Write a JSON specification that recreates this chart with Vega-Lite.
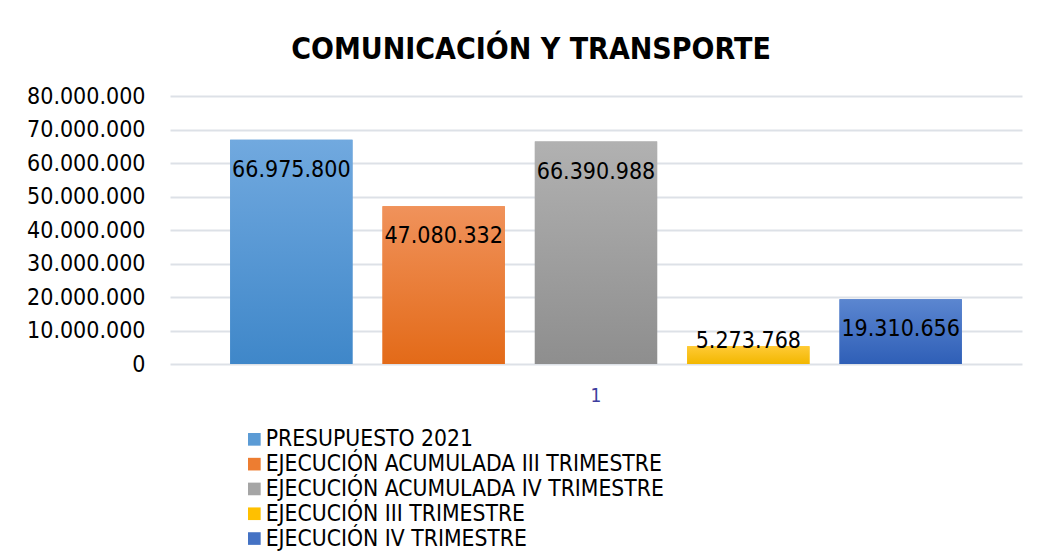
{
  "$schema": "https://vega.github.io/schema/vega-lite/v6.json",
  "autosize": {"type": "none"},
  "width": 852,
  "height": 268,
  "padding": {"left": 170, "top": 96, "right": 19, "bottom": 196},
  "background": "white",
  "config": {
    "view": {"stroke": null},
    "locale": {"number": {"decimal": ",", "thousands": ".", "grouping": [3], "currency": ["$", ""]}},
    "font": "DejaVu Sans Condensed"
  },
  "title": {
    "text": "COMUNICACIÓN Y TRANSPORTE",
    "font": "DejaVu Sans Condensed",
    "fontSize": 30,
    "fontWeight": "bold",
    "color": "#000000",
    "anchor": "middle",
    "dx": -65,
    "dy": 41,
    "baseline": "alphabetic",
    "offset": 37
  },
  "data": {
    "values": [
      {"cat": "1", "serie": "PRESUPUESTO 2021", "valor": 66975800},
      {"cat": "1", "serie": "EJECUCIÓN ACUMULADA III TRIMESTRE", "valor": 47080332},
      {"cat": "1", "serie": "EJECUCIÓN ACUMULADA IV TRIMESTRE", "valor": 66390988},
      {"cat": "1", "serie": "EJECUCIÓN III TRIMESTRE", "valor": 5273768},
      {"cat": "1", "serie": "EJECUCIÓN IV TRIMESTRE", "valor": 19310656}
    ]
  },
  "encoding": {
    "x": {
      "field": "cat",
      "type": "nominal",
      "title": null,
      "scale": {"paddingInner": 0, "paddingOuter": 0},
      "axis": {
        "labelAngle": 0,
        "domain": false,
        "ticks": false,
        "grid": false,
        "labelFontSize": 19,
        "labelColor": "#3d3d9e",
        "labelFont": "DejaVu Sans Condensed",
        "labelPadding": 22
      }
    },
    "xOffset": {
      "field": "serie",
      "type": "nominal",
      "sort": ["PRESUPUESTO 2021", "EJECUCIÓN ACUMULADA III TRIMESTRE", "EJECUCIÓN ACUMULADA IV TRIMESTRE", "EJECUCIÓN III TRIMESTRE", "EJECUCIÓN IV TRIMESTRE"],
      "scale": {"paddingInner": 0.197, "paddingOuter": 0.395}
    },
    "y": {
      "field": "valor",
      "type": "quantitative",
      "title": null,
      "scale": {"domain": [0, 80000000], "nice": false},
      "axis": {
        "values": [0, 10000000, 20000000, 30000000, 40000000, 50000000, 60000000, 70000000, 80000000],
        "format": ",d",
        "domain": false,
        "ticks": false,
        "tickSize": 0,
        "labelPadding": 25,
        "labelFontSize": 23,
        "labelColor": "#000000",
        "labelFont": "DejaVu Sans Condensed",
        "gridColor": "#dde1e7",
        "gridWidth": 2
      }
    }
  },
  "layer": [
    {
      "mark": {"type": "bar"},
      "encoding": {
        "color": {
          "field": "serie",
          "type": "nominal",
          "sort": ["PRESUPUESTO 2021", "EJECUCIÓN ACUMULADA III TRIMESTRE", "EJECUCIÓN ACUMULADA IV TRIMESTRE", "EJECUCIÓN III TRIMESTRE", "EJECUCIÓN IV TRIMESTRE"],
          "scale": {
            "domain": ["PRESUPUESTO 2021", "EJECUCIÓN ACUMULADA III TRIMESTRE", "EJECUCIÓN ACUMULADA IV TRIMESTRE", "EJECUCIÓN III TRIMESTRE", "EJECUCIÓN IV TRIMESTRE"],
            "range": ["#5b9bd5", "#ed7d31", "#a5a5a5", "#ffc000", "#4472c4"]
          },
          "legend": {
            "title": null,
            "orient": "none",
            "legendX": 73,
            "legendY": 332,
            "padding": 0,
            "symbolType": "square",
            "symbolSize": 160,
            "symbolStrokeWidth": 0,
            "labelFontSize": 22.7,
            "labelFont": "DejaVu Sans Condensed",
            "labelColor": "#000000",
            "labelOffset": 0,
            "rowPadding": 0.8,
            "labelLimit": 600
          }
        }
      }
    },
    {
      "transform": [{"filter": "datum.serie === 'PRESUPUESTO 2021'"}],
      "mark": {"type": "bar", "color": {"gradient": "linear", "x1": 0, "y1": 0, "x2": 0, "y2": 1, "stops": [{"offset": 0, "color": "#71a9df"}, {"offset": 1, "color": "#3f87c9"}]}}
    },
    {
      "transform": [{"filter": "datum.serie === 'EJECUCIÓN ACUMULADA III TRIMESTRE'"}],
      "mark": {"type": "bar", "color": {"gradient": "linear", "x1": 0, "y1": 0, "x2": 0, "y2": 1, "stops": [{"offset": 0, "color": "#f0925b"}, {"offset": 1, "color": "#e36a18"}]}}
    },
    {
      "transform": [{"filter": "datum.serie === 'EJECUCIÓN ACUMULADA IV TRIMESTRE'"}],
      "mark": {"type": "bar", "color": {"gradient": "linear", "x1": 0, "y1": 0, "x2": 0, "y2": 1, "stops": [{"offset": 0, "color": "#b1b1b1"}, {"offset": 1, "color": "#8e8e8e"}]}}
    },
    {
      "transform": [{"filter": "datum.serie === 'EJECUCIÓN III TRIMESTRE'"}],
      "mark": {"type": "bar", "color": {"gradient": "linear", "x1": 0, "y1": 0, "x2": 0, "y2": 1, "stops": [{"offset": 0, "color": "#ffca35"}, {"offset": 1, "color": "#f2b700"}]}}
    },
    {
      "transform": [{"filter": "datum.serie === 'EJECUCIÓN IV TRIMESTRE'"}],
      "mark": {"type": "bar", "color": {"gradient": "linear", "x1": 0, "y1": 0, "x2": 0, "y2": 1, "stops": [{"offset": 0, "color": "#5b86d0"}, {"offset": 1, "color": "#2f5fb7"}]}}
    },
    {
      "transform": [{"filter": "datum.valor > 10000000"}],
      "mark": {"type": "text", "baseline": "alphabetic", "align": "center", "dy": 37, "fontSize": 23, "font": "DejaVu Sans Condensed", "color": "#000000"},
      "encoding": {"text": {"field": "valor", "type": "quantitative", "format": ",d"}}
    },
    {
      "transform": [{"filter": "datum.valor <= 10000000"}],
      "mark": {"type": "text", "baseline": "alphabetic", "align": "center", "dy": 2, "fontSize": 23, "font": "DejaVu Sans Condensed", "color": "#000000"},
      "encoding": {"text": {"field": "valor", "type": "quantitative", "format": ",d"}}
    }
  ]
}
